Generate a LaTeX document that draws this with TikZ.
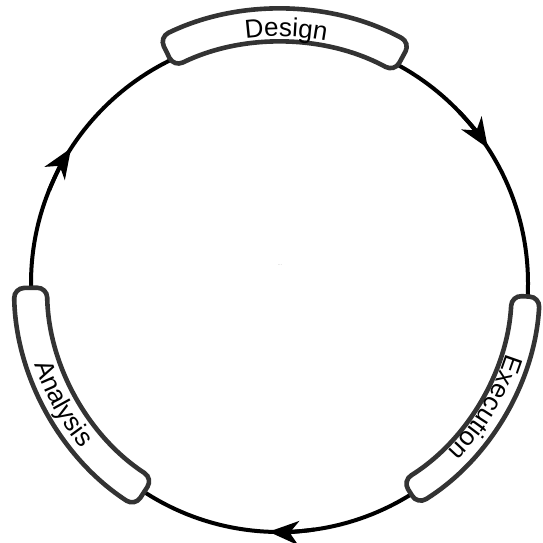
\documentclass[tikz,border=0pt]{standalone}
\usepackage{fontspec}
\newfontfamily\lsans{Liberation Sans}
\usetikzlibrary{arrows.meta,decorations.text}
\definecolor{boxgray}{HTML}{333333}
\begin{document}
\begin{tikzpicture}[x=1pt,y=1pt,
  ring/.style={line width=4pt,black},
  stagebox/.style={draw=boxgray,fill=white,line width=4.6pt,rounded corners=10pt},
  flowarrow/.style={line width=4pt,black,-{Stealth[length=30pt,width=24pt,inset=9pt]}}]
\useasboundingbox (0,0) rectangle (543,543);
\coordinate (C) at (279.5,259.5);
% main cycle
\draw[ring] (C) circle[radius=248.5pt];
% arrowheads (clockwise)
\draw[flowarrow] ([shift={(44:248.5pt)}]C) arc[start angle=44,end angle=33,radius=248.5pt] coordinate (a1);
\draw[flowarrow] ([shift={(278:248.5pt)}]C) arc[start angle=278,end angle=267.5,radius=248.5pt] coordinate (a2);
\draw[flowarrow] ([shift={(158:248.5pt)}]C) arc[start angle=158,end angle=147,radius=248.5pt] coordinate (a3);
% Design box
\draw[stagebox] ([shift={(61.5:274pt)}]C) coordinate (d1) arc[start angle=61.5,end angle=116,radius=274pt]
  -- ([shift={(116:241pt)}]C) arc[start angle=116,end angle=61.5,radius=241pt] -- cycle;
% Execution box
\draw[stagebox] ([shift={(-3:260.5pt)}]C) coordinate (e1) arc[start angle=-3,end angle=-58,radius=260.5pt]
  -- ([shift={(-58:232.5pt)}]C) arc[start angle=-58,end angle=-3,radius=232.5pt] -- cycle;
% Analysis box
\draw[stagebox] ([shift={(181:265.5pt)}]C) coordinate (n1) arc[start angle=181,end angle=237,radius=265.5pt]
  -- ([shift={(237:232.5pt)}]C) arc[start angle=237,end angle=181,radius=232.5pt] -- cycle;
% labels along the arcs
\path[decorate,decoration={text along path,text align=center,
  text={|\lsans\fontsize{26pt}{26pt}\selectfont|Design}}]
  ([shift={(128:247pt)}]C) arc[start angle=128,end angle=49,radius=247pt];
\path[decorate,decoration={text along path,text align=center,
  text={|\lsans\fontsize{26pt}{26pt}\selectfont|Execution}}]
  ([shift={(12:237pt)}]C) arc[start angle=12,end angle=-74,radius=237pt];
\path[decorate,decoration={text along path,text align=center,
  text={|\lsans\fontsize{26pt}{26pt}\selectfont|Analysis}}]
  ([shift={(166:258pt)}]C) arc[start angle=166,end angle=252,radius=258pt];
% faint centre mark
\node[text=gray!45,font=\lsans\fontsize{6pt}{6pt}\selectfont,inner sep=0pt] (dots) at (280,278) {...};
\end{tikzpicture}
\end{document}
